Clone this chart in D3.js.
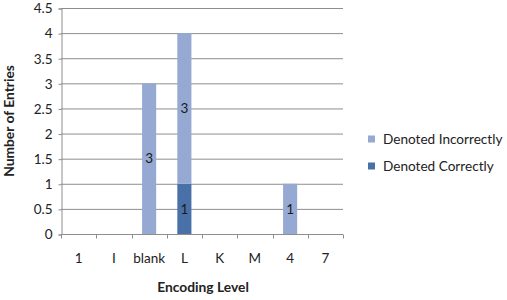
<!DOCTYPE html>
<html><head><meta charset="utf-8">
<script src="https://cdn.jsdelivr.net/npm/d3@7"></script>
<style>body{margin:0;background:#fff}svg{display:block}text{font-family:Lato,"Open Sans",sans-serif}</style>
</head><body><svg id="c" width="507" height="300"></svg>
<script>
const categories = ["1","I","blank","L","K","M","4","7"];
const correct   = [0,0,0,1,0,0,0,0];
const incorrect = [0,0,3,3,0,0,1,0];
const yTicks = [0,0.5,1,1.5,2,2.5,3,3.5,4,4.5];
const seriesNames = ["Denoted Correctly","Denoted Incorrectly"];
const colors = {"Denoted Correctly":"#4A70A8","Denoted Incorrectly":"#95A9D3"};

const svg = d3.select("#c");
const m = {l:61, r:343, t:8, b:234};
const x = d3.scaleBand().domain(categories).range([m.l,m.r]).paddingInner(0.6).paddingOuter(0.3);
const xb = d3.scaleBand().domain(categories).range([m.l,m.r]);
const y = d3.scaleLinear().domain([0,4.5]).range([m.b,m.t]);

svg.append("g").selectAll("line").data(yTicks.slice(1)).join("line")
  .attr("x1",m.l).attr("x2",m.r).attr("y1",d=>y(d)+0.5).attr("y2",d=>y(d)+0.5)
  .attr("stroke","#8E8E8E").attr("stroke-width",1);

const ya = svg.append("g").attr("transform",`translate(${m.l+0.5},0.5)`)
  .call(d3.axisLeft(y).tickValues(yTicks).tickFormat(d=>String(d)).tickSize(3).tickPadding(6));
ya.select(".domain").attr("stroke","#8E8E8E");
ya.selectAll(".tick line").attr("stroke","#8E8E8E");
ya.selectAll("text").attr("font-size",13.5).attr("fill","#222");

const stack = d3.stack().keys(seriesNames)(categories.map((c,i)=>({cat:c,"Denoted Correctly":correct[i],"Denoted Incorrectly":incorrect[i]})));
const g = svg.append("g");
stack.forEach(layer=>{
  layer.forEach(d=>{
    const v = d[1]-d[0];
    if(v<=0) return;
    g.append("rect").attr("x",x(d.data.cat)).attr("width",x.bandwidth())
      .attr("y",y(d[1])).attr("height",y(d[0])-y(d[1])).attr("fill",colors[layer.key]);
    g.append("text").attr("x",x(d.data.cat)+x.bandwidth()/2).attr("y",(y(d[0])+y(d[1]))/2)
      .attr("dy","0.35em").attr("text-anchor","middle").attr("font-size",13.5).attr("fill","#1a1a1a").text(v);
  });
});

const xa = svg.append("g").attr("transform",`translate(0,${m.b+0.5})`);
xa.append("line").attr("x1",m.l).attr("x2",m.r).attr("stroke","#8E8E8E");
const bounds = categories.map(c=>xb(c)).concat([m.r]);
xa.selectAll(".tk").data(bounds).join("line").attr("class","tk")
  .attr("x1",d=>Math.round(d)+0.5).attr("x2",d=>Math.round(d)+0.5).attr("y1",0).attr("y2",4).attr("stroke","#8E8E8E");
xa.selectAll(".lb").data(categories).join("text").attr("class","lb")
  .attr("x",d=>xb(d)+xb.bandwidth()/2).attr("y",28).attr("text-anchor","middle")
  .attr("font-size",13.5).attr("fill","#222").text(d=>d);

svg.append("text").attr("x",203).attr("y",292).attr("text-anchor","middle")
  .attr("font-size",13.8).attr("font-weight","bold").attr("fill","#222").text("Encoding Level");
svg.append("text").attr("transform",`translate(14,${(m.t+m.b)/2}) rotate(-90)`).attr("text-anchor","middle")
  .attr("font-size",13.8).attr("font-weight","bold").attr("fill","#222").text("Number of Entries");

const leg = svg.append("g");
[["Denoted Incorrectly",139],["Denoted Correctly",166]].forEach(([n,yy])=>{
  leg.append("rect").attr("x",368).attr("y",yy-3.5).attr("width",7).attr("height",7).attr("fill",colors[n]);
  leg.append("text").attr("x",383).attr("y",yy).attr("dy","0.35em").attr("font-size",13.6).attr("fill","#222").text(n);
});
</script></body></html>
